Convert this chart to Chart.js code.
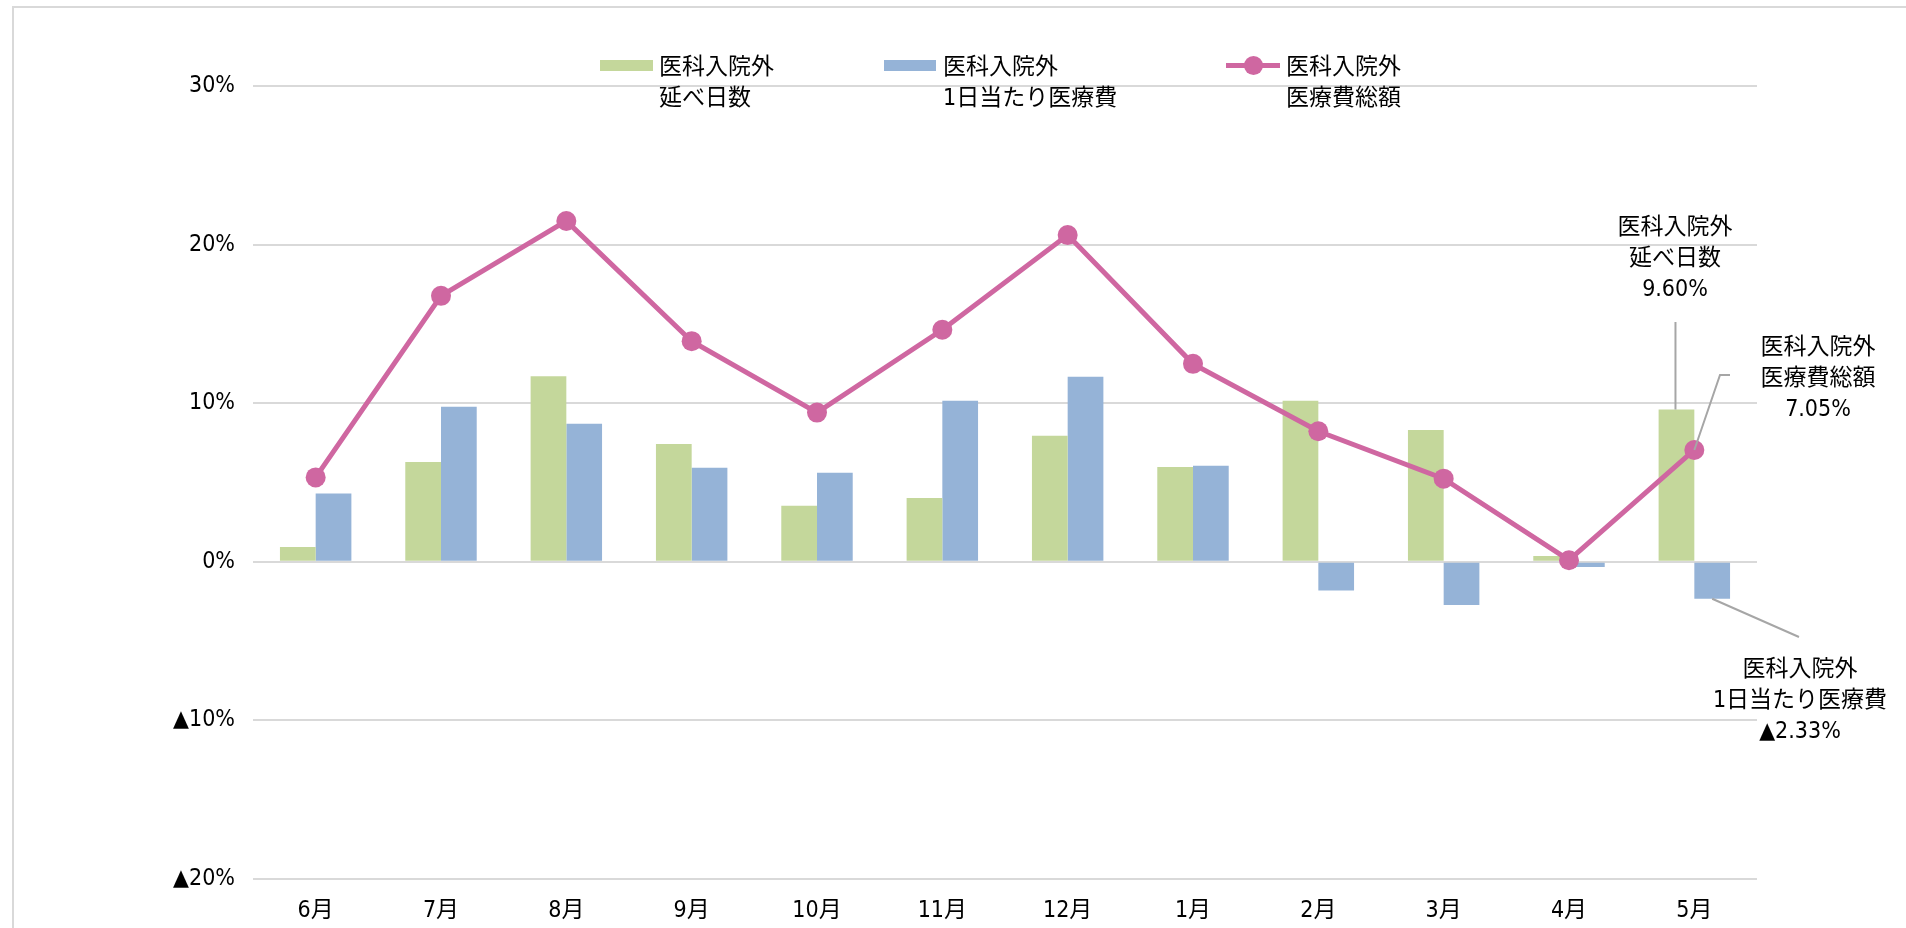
<!DOCTYPE html>
<html lang="ja">
<head>
<meta charset="UTF-8">
<title>医科入院外</title>
<script src="https://cdn.jsdelivr.net/npm/chart.js"></script>
<style>
    body { margin: 0; background: #fff; }
    .wrap { position: relative; width: 1906px; height: 928px; overflow: hidden; }
    .frame { position: absolute; left: 12px; top: 6px; width: 2000px; height: 1000px; border: 2px solid #d9d9d9; }
    canvas { position: absolute; left: 0; top: 0; }
    .txt {
        position: absolute;
        font-family: 'Liberation Sans Narrow', 'DejaVu Sans Condensed', 'Noto Sans CJK JP', sans-serif;
        font-size: 23px;
        line-height: 31px;
        color: #000;
        white-space: nowrap;
    }
    .center { transform: translateX(-50%); text-align: center; }
    .sw { position: absolute; height: 11px; }
</style>
</head>
<body>
<div class="wrap">
    <div class="frame"></div>
    <canvas id="myChart" width="1906" height="928"></canvas>

    <!-- legend -->
    <div class="sw" style="left:600px; top:60px; width:53px; background:#c4d79b;"></div>
    <div class="txt" style="left:659px; top:51px;">医科入院外<br>延べ日数</div>
    <div class="sw" style="left:884px; top:60px; width:52px; background:#95b3d7;"></div>
    <div class="txt" style="left:943px; top:51px;">医科入院外<br>1日当たり医療費</div>
    <div class="sw" style="left:1226px; top:63px; width:54px; height:5px; background:#cf67a1;"></div>
    <div class="sw" style="left:1244px; top:56px; width:19px; height:19px; border-radius:50%; background:#cf67a1;"></div>
    <div class="txt" style="left:1286px; top:51px;">医科入院外<br>医療費総額</div>

    <!-- callouts -->
    <div class="txt center" style="left:1675px; top:211px;">医科入院外<br>延べ日数<br>9.60%</div>
    <div class="txt center" style="left:1818px; top:331px;">医科入院外<br>医療費総額<br>7.05%</div>
    <div class="txt center" style="left:1800px; top:653px;">医科入院外<br>1日当たり医療費<br>▲2.33%</div>
</div>

<script>
    const months = ['6月', '7月', '8月', '9月', '10月', '11月', '12月', '1月', '2月', '3月', '4月', '5月'];
    const nobeNissu = [0.93, 6.29, 11.70, 7.43, 3.54, 4.02, 7.95, 5.98, 10.16, 8.31, 0.36, 9.60];
    const ichinichiAtari = [4.31, 9.77, 8.71, 5.93, 5.62, 10.16, 11.66, 6.06, -1.81, -2.72, -0.32, -2.33];
    const souGaku = [5.32, 16.77, 21.49, 13.91, 9.41, 14.63, 20.60, 12.48, 8.23, 5.24, 0.10, 7.05];
    const yTicks = [-20, -10, 0, 10, 20, 30];

    Chart.defaults.font.family = "'Liberation Sans Narrow', 'DejaVu Sans Condensed', 'Noto Sans CJK JP', sans-serif";
    Chart.defaults.font.size = 23;
    Chart.defaults.color = '#000';

    // leader lines from the last month's marks to the callout texts
    const leaders = {
        id: 'leaders',
        afterDatasetsDraw(chart) {
            const c = chart.ctx;
            const last = months.length - 1;
            const g = chart.getDatasetMeta(1).data[last];
            const b = chart.getDatasetMeta(2).data[last];
            const p = chart.getDatasetMeta(0).data[last];
            c.save();
            c.strokeStyle = '#a6a6a6';
            c.lineWidth = 2;
            c.beginPath();
            c.moveTo(g.x - 1, g.y);
            c.lineTo(g.x - 1, 322);
            c.moveTo(p.x, p.y);
            c.lineTo(1720, 375);
            c.lineTo(1730, 375);
            c.moveTo(b.x, b.y);
            c.lineTo(1799, 637);
            c.stroke();
            c.restore();
        }
    };

    new Chart(document.getElementById('myChart'), {
        type: 'bar',
        data: {
            labels: months,
            datasets: [{
                type: 'line',
                label: '医科入院外 医療費総額',
                data: souGaku,
                borderColor: '#cf67a1',
                backgroundColor: '#cf67a1',
                borderWidth: 5,
                pointRadius: 10,
                pointBorderWidth: 0,
                pointBackgroundColor: '#cf67a1',
                tension: 0,
                order: 0
            }, {
                label: '医科入院外 延べ日数',
                data: nobeNissu,
                backgroundColor: '#c4d79b',
                order: 1
            }, {
                label: '医科入院外 1日当たり医療費',
                data: ichinichiAtari,
                backgroundColor: '#95b3d7',
                order: 1
            }]
        },
        options: {
            responsive: false,
            animation: false,
            categoryPercentage: 0.57,
            barPercentage: 1,
            layout: { padding: { top: 86, right: 149, left: 0, bottom: 0 } },
            scales: {
                x: {
                    grid: { display: false, drawTicks: false },
                    border: { display: false },
                    ticks: { padding: 18 },
                    afterFit(scale) { scale.height = 49; }
                },
                y: {
                    min: -20,
                    max: 30,
                    afterBuildTicks(scale) { scale.ticks = yTicks.map(v => ({ value: v })); },
                    ticks: {
                        padding: 18,
                        callback: v => (v < 0 ? '▲' + Math.abs(v) : v) + '%'
                    },
                    grid: { color: '#d9d9d9', lineWidth: 2, drawTicks: false },
                    border: { display: false },
                    afterFit(scale) { scale.width = 253; }
                }
            },
            plugins: {
                legend: { display: false },
                tooltip: { enabled: false }
            }
        },
        plugins: [leaders]
    });
</script>
</body>
</html>
